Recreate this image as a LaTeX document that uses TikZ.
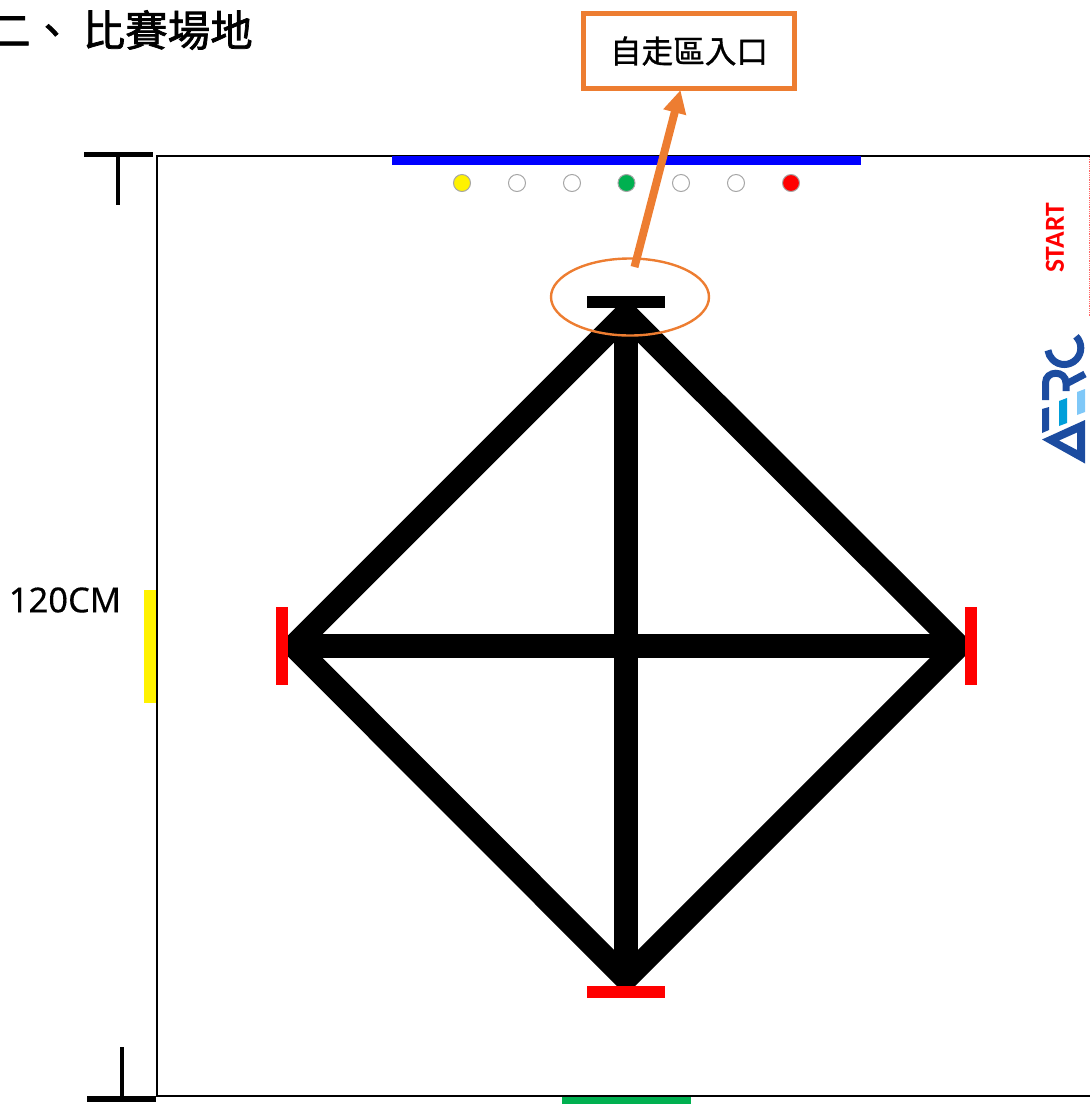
\documentclass[tikz,border=0pt]{standalone}
\usepackage{fontspec}
\usetikzlibrary{arrows.meta,shapes.geometric}
\newfontfamily\cjk[FakeBold=1.7]{Noto Sans CJK TC}
\newfontfamily\cjkmed[FakeBold=1]{Noto Sans CJK TC}
\newfontfamily\labelfont[FakeBold=0.25]{Noto Sans}
\newfontfamily\startfont{Carlito}
\definecolor{accent}{HTML}{ED7D31}
\definecolor{logodark}{HTML}{1C4CA0}
\definecolor{logomid}{HTML}{009FDA}
\definecolor{logolight}{HTML}{7FC8F8}
\definecolor{padgreen}{HTML}{00B050}
\tikzset{
  track/.style={line width=#1,black},
  bar/.style={fill=#1,draw=none},
  dot/.style={circle,minimum size=17pt,inner sep=0pt,draw=gray!70,line width=1pt,fill=#1},
  logostroke/.style={draw=logodark,line width=7pt},
  marker/.style={black,line width=#1}
}
\begin{document}
\begin{tikzpicture}[x=1pt,y=-1pt]
\useasboundingbox (0,0) rectangle (1090,1104);
% field frame
\coordinate (fTL) at (156.5,155.5);
\coordinate (fBL) at (156.5,1096);
\coordinate (fTR) at (1090,155.5);
\coordinate (fBR) at (1090,1096);
\fill[bar=yellow] (144,590) rectangle (156,703);
\fill[bar=padgreen] (562,1097) rectangle (691,1104);
\draw[black,line width=2pt] (fTR) -- (fTL) -- (fBL) -- (fBR);
\fill[bar=blue] (392,156) rectangle (861,165);
\draw[red!60,line width=0.8pt,densely dotted] (1089.3,157) -- (1089.3,316);
% dimension marks
\coordinate (tA) at (84,154.5);\coordinate (tB) at (153,154.5);
\coordinate (tM) at (118,154.5);\coordinate (tE) at (118,205);
\draw[marker=5pt] (tA) -- (tB);
\draw[marker=4.5pt] (tM) -- (tE);
\coordinate (bA) at (87,1099);\coordinate (bB) at (156,1099);
\coordinate (bM) at (122,1099);\coordinate (bE) at (122,1047);
\draw[marker=5.5pt] (bA) -- (bB);
\draw[marker=4.5pt] (bM) -- (bE);
% track
\coordinate (T) at (626,314);
\coordinate (B) at (626,978.5);
\coordinate (L) at (294,646);
\coordinate (R) at (958.5,646);
\begin{scope}
\clip (288,307) rectangle (965,986);
\draw[track=23.5pt,line join=miter] (T) -- (R) -- (B) -- (L) -- cycle;
\draw[track=23.5pt] (T) -- (B);
\draw[track=24pt] (L) -- (R);
\end{scope}
\fill[bar=black] (587,296) rectangle (665,307.5);
\fill[bar=red] (587,986) rectangle (665,998);
\fill[bar=red] (276,607) rectangle (288,685);
\fill[bar=red] (965,607) rectangle (977,685);
% dots
\node[dot=yellow] (d1) at (462,183) {};
\node[dot=white] (d2) at (517,183) {};
\node[dot=white] (d3) at (572,183) {};
\node[dot=padgreen] (d4) at (626.5,183) {};
\node[dot=white] (d5) at (681,183) {};
\node[dot=white] (d6) at (736,183) {};
\node[dot=red] (d7) at (791,183) {};
% entrance
\node[ellipse,draw=accent,line width=2.4pt,minimum width=158pt,minimum height=77pt,inner sep=0pt] (ent) at (630,297) {};
\node[draw=accent,line width=4.8pt,fill=white,minimum width=211pt,minimum height=75pt,inner sep=0pt,font=\cjkmed\fontsize{31.6}{31.6}\selectfont] (box) at (689,51) {\raisebox{-2pt}{自走區入口}};
\coordinate (arS) at (634.5,267);
\coordinate (arE) at (680.5,90);
\draw[accent,line width=8pt,-{Triangle[length=23pt,width=22pt]}] (arS) -- (arE);
% texts
\node[anchor=west,inner sep=0pt,font=\cjk\fontsize{42.5}{42.5}\selectfont] (title) at (-12,30) {二、 比賽場地};
\node[inner sep=0pt,font=\labelfont\fontsize{34.5}{34.5}\selectfont] (dim) at (65,600) {120CM};
\node[rotate=90,inner sep=0pt,text=red,font=\startfont\bfseries\fontsize{27.5}{27.5}\selectfont] (start) at (1055,238) {START};
% logo
\begin{scope}[line join=miter]
\fill[logodark,even odd rule] (1042,439.5) -- (1085,420) -- (1085,463.5) -- cycle
  (1059,440.5) -- (1077,432.5) -- (1077,450) -- cycle;
\fill[logodark] (1042,409) -- (1049,407) -- (1049,430) -- (1042,433) -- cycle;
\fill[logomid] (1059,401) -- (1067,398) -- (1067,423) -- (1059,426) -- cycle;
\fill[logolight] (1077,392) -- (1085,389) -- (1085,412) -- (1077,415) -- cycle;
\draw[logostroke] (1045.5,400) -- (1045.5,383) .. controls (1045.5,370) and (1066,370) .. (1066,383) -- (1066,391);
\draw[logostroke] (1066,384) -- (1085,374);
\begin{scope}[shift={(1064.3,348)},y=1pt]
\draw[logostroke] (45:16.5) arc[start angle=45,end angle=-172,radius=16.5];
\end{scope}
\end{scope}
\end{tikzpicture}
\end{document}
